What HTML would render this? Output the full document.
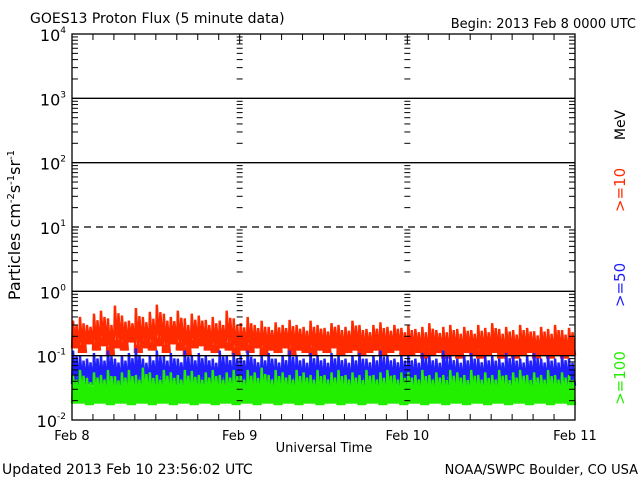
<!DOCTYPE html>
<html><head><meta charset="utf-8"><style>
body{margin:0;background:#fff;}
svg{display:block;font-family:"DejaVu Sans","Liberation Sans",sans-serif;}
</style></head><body>
<svg id="c" width="640" height="480" viewBox="0 0 640 480">
<rect width="640" height="480" fill="#fff"/>
<text x="30" y="23" font-size="14">GOES13 Proton Flux (5 minute data)</text>
<text x="636" y="28" font-size="13" text-anchor="end">Begin: 2013 Feb 8 0000 UTC</text>
<g id="data"></g>
<g id="axes"></g>
<text transform="translate(20,225) rotate(-90)" font-size="16" text-anchor="middle">Particles cm<tspan dy="-6" font-size="10">-2</tspan><tspan dy="6">s</tspan><tspan dy="-6" font-size="10">-1</tspan><tspan dy="6">sr</tspan><tspan dy="-6" font-size="10">-1</tspan></text>
<text x="324" y="452" font-size="13" text-anchor="middle">Universal Time</text>
<text x="2" y="474" font-size="14">Updated 2013 Feb 10 23:56:02 UTC</text>
<text x="638" y="474" font-size="13" text-anchor="end">NOAA/SWPC Boulder, CO USA</text>
<text transform="translate(625,125) rotate(-90)" font-size="14" text-anchor="middle">MeV</text>
<text transform="translate(625,190) rotate(-90)" font-size="15" fill="#ff2a00" text-anchor="middle">&gt;=10</text>
<text transform="translate(625,285) rotate(-90)" font-size="15" fill="#2020ff" text-anchor="middle">&gt;=50</text>
<text transform="translate(625,378) rotate(-90)" font-size="15" fill="#22ee00" text-anchor="middle">&gt;=100</text>
</svg>
<script>
const dayLabels=["Feb 8","Feb 9","Feb 10","Feb 11"];
const decades=[-2,-1,0,1,2,3,4];
const redHi=[0.35,0.4,0.3,0.45,0.5,0.38,0.6,0.42,0.35,0.55,0.4,0.48,0.62,0.45,0.4,0.5,0.38,0.45,0.42,0.36,0.4,0.35,0.5,0.38,
0.32,0.4,0.3,0.35,0.28,0.33,0.3,0.36,0.3,0.28,0.35,0.3,0.27,0.32,0.3,0.28,0.35,0.3,0.26,0.3,0.33,0.28,0.3,0.27,
0.3,0.26,0.28,0.32,0.25,0.28,0.3,0.26,0.28,0.25,0.3,0.27,0.32,0.26,0.28,0.25,0.3,0.27,0.24,0.28,0.26,0.3,0.25,0.27];
const redLo=[0.13,0.11,0.15,0.12,0.14,0.1,0.13,0.12,0.16,0.11,0.13,0.12,0.14,0.11,0.15,0.12,0.1,0.13,0.14,0.12,0.11,0.13,0.12,0.1,
0.12,0.11,0.13,0.1,0.12,0.11,0.13,0.1,0.12,0.11,0.1,0.12,0.11,0.13,0.1,0.11,0.12,0.1,0.11,0.12,0.1,0.11,0.12,0.1,
0.1,0.11,0.09,0.1,0.11,0.09,0.1,0.09,0.11,0.1,0.09,0.1,0.11,0.09,0.1,0.09,0.1,0.11,0.09,0.1,0.09,0.1,0.09,0.1];
const blueHi=[0.12,0.1,0.09,0.11,0.1,0.12,0.09,0.1,0.11,0.13,0.09,0.1,0.12,0.1,0.11,0.09,0.12,0.1,0.11,0.1,0.09,0.12,0.1,0.11,
0.1,0.12,0.09,0.1,0.11,0.09,0.1,0.12,0.1,0.09,0.11,0.1,0.09,0.11,0.1,0.09,0.1,0.11,0.09,0.1,0.12,0.1,0.09,0.1,
0.1,0.09,0.11,0.1,0.09,0.12,0.1,0.09,0.1,0.11,0.09,0.1,0.1,0.09,0.11,0.1,0.09,0.1,0.11,0.09,0.1,0.09,0.1,0.09];
const blueLo=[0.036,0.034,0.036,0.035,0.034,0.036,0.035,0.034,0.036,0.035,0.034,0.035,0.036,0.034,0.035,0.036,0.034,0.035,0.036,0.035,0.034,0.035,0.036,0.034,
0.035,0.034,0.036,0.035,0.034,0.035,0.036,0.034,0.035,0.034,0.036,0.035,0.034,0.035,0.036,0.034,0.035,0.034,0.036,0.035,0.034,0.035,0.036,0.034,
0.035,0.034,0.036,0.035,0.034,0.035,0.036,0.034,0.035,0.034,0.036,0.035,0.034,0.035,0.036,0.034,0.035,0.034,0.036,0.035,0.034,0.035,0.036,0.034];
const greenHi=[0.05,0.06,0.045,0.055,0.05,0.06,0.048,0.055,0.06,0.05,0.065,0.055,0.05,0.06,0.055,0.05,0.06,0.058,0.05,0.055,0.06,0.05,0.055,0.06,
0.05,0.06,0.055,0.065,0.05,0.06,0.055,0.05,0.06,0.055,0.05,0.06,0.05,0.055,0.06,0.05,0.055,0.05,0.06,0.05,0.055,0.06,0.05,0.055,
0.055,0.05,0.06,0.05,0.055,0.05,0.06,0.055,0.05,0.06,0.05,0.055,0.05,0.06,0.05,0.055,0.06,0.05,0.055,0.05,0.06,0.05,0.055,0.05];
const greenLo=[0.018,0.018,0.017,0.018,0.018,0.017,0.018,0.018,0.017,0.018,0.018,0.017,0.018,0.018,0.017,0.018,0.018,0.017,0.018,0.018,0.017,0.018,0.018,0.017,
0.018,0.018,0.017,0.018,0.018,0.017,0.018,0.018,0.017,0.018,0.018,0.017,0.018,0.018,0.017,0.018,0.018,0.017,0.018,0.018,0.017,0.018,0.018,0.017,
0.018,0.018,0.017,0.018,0.018,0.017,0.018,0.018,0.017,0.018,0.018,0.017,0.018,0.018,0.017,0.018,0.018,0.017,0.018,0.018,0.017,0.018,0.018,0.017];

const NS='http://www.w3.org/2000/svg';
const X0=72,X1=575,Y0=34,Y1=420;
function xs(h){return X0+(X1-X0)*h/72;}
function ys(v){return Y1-(Math.log10(v)+2)*(Y1-Y0)/6;}
function mk(tag,attrs,parent){const e=document.createElementNS(NS,tag);for(const k in attrs)e.setAttribute(k,attrs[k]);parent.appendChild(e);return e;}
const data=document.getElementById('data'),axes=document.getElementById('axes');

function series(hi,lo,color,name,core){
  const g=mk('g',{},data);
  
  
  const n=hi.length;let d='',a='',b='';
  for(let i=0;i<n;i++){
    const xa=xs(i*72/n),xb=xs((i+0.5)*72/n),xc=xs((i+1)*72/n);
    d+=`M${xa},${ys(lo[i])}L${xa+1},${ys(hi[i])}L${xb},${ys(lo[i])}L${xb+1},${ys((hi[i]+lo[i])/1.6)}L${xc},${ys(lo[i])}`;
    a+=(i?'L':'M')+`${xa},${ys(lo[i]*core)}L${xc},${ys(lo[i]*core)}`;
    b=`L${xc},${ys(lo[i])}L${xa},${ys(lo[i])}`+b;
  }
  const f=mk('path',{d:a+b+'Z',fill:color,stroke:'none'},g);
  
  
  const p=mk('path',{d:d,fill:'none',stroke:color,'stroke-width':2.4},g);
  
  
}
series(redHi,redLo,'#ff2a00','series-10mev',1.35);
series(blueHi,blueLo,'#2020ff','series-50mev',1.25);
series(greenHi,greenLo,'#22ee00','series-100mev',1.45);

decades.forEach(dc=>{
  if(dc===-2||dc===4)return;
  const y=ys(Math.pow(10,dc));
  const l=mk('line',{x1:X0,x2:X1,y1:y,y2:y,stroke:'#000','stroke-width':1.3},axes);
  if(dc===1)l.setAttribute('stroke-dasharray','7,5');
  
  
});
const fr=mk('rect',{x:X0,y:Y0,width:X1-X0,height:Y1-Y0,fill:'none',stroke:'#000','stroke-width':1.3},axes);


decades.forEach(dc=>{
  const y=ys(Math.pow(10,dc));
  const t=mk('text',{x:X0-6,y:y+7,'font-size':16,'text-anchor':'end'},axes);
  t.innerHTML=`10<tspan dy="-8" font-size="9">${dc}</tspan>`;
  
  
  if(dc<4){for(let m=2;m<=9;m++){const ym=ys(m*Math.pow(10,dc));
    [X0,xs(24),xs(48),X1].forEach((xx,k)=>{
      const x1=k===0?X0:(k===3?X1-6:xx-3),x2=k===0?X0+6:(k===3?X1:xx+3);
      mk('line',{x1:x1,x2:x2,y1:ym,y2:ym,stroke:'#000','stroke-width':1},axes);
    });}}
});
for(let h=0;h<=72;h+=3){
  const x=xs(h),len=h%24===0?10:6;
  mk('line',{x1:x,x2:x,y1:Y1,y2:Y1-len,stroke:'#000','stroke-width':1},axes);
  mk('line',{x1:x,x2:x,y1:Y0,y2:Y0+len,stroke:'#000','stroke-width':1},axes);
}
dayLabels.forEach((lb,i)=>{
  const t=mk('text',{x:xs(i*24),y:440,'font-size':13,'text-anchor':'middle'},axes);
  t.textContent=lb;
  
  
});
</script>
</body></html>
